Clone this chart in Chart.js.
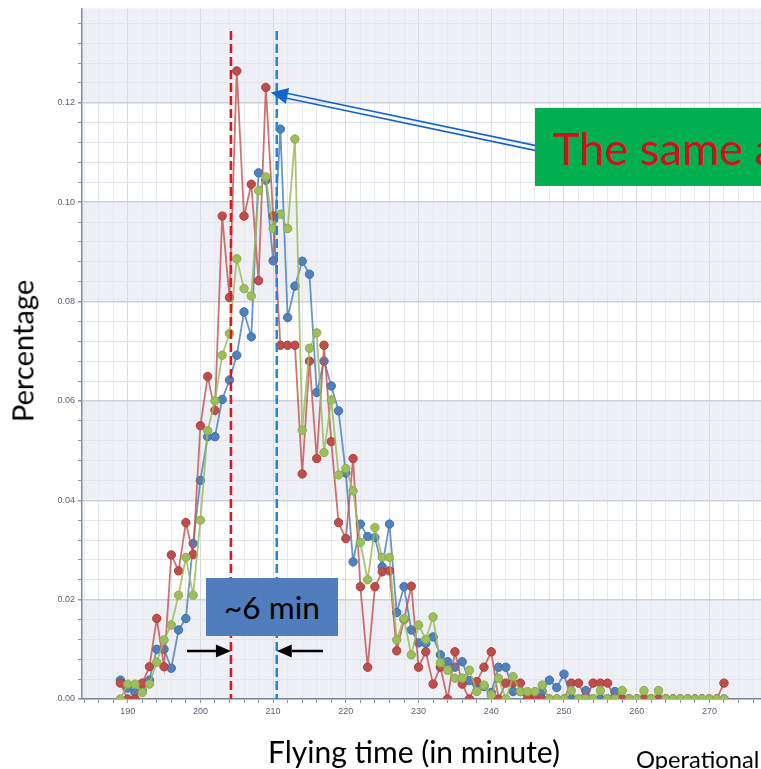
<!DOCTYPE html>
<html>
<head>
<meta charset="utf-8">
<title>Flying time distribution</title>
<script src="https://cdn.jsdelivr.net/npm/chart.js@4.4.1/dist/chart.umd.min.js"></script>
<style>
  html, body { margin: 0; padding: 0; background: #ffffff; }
  #stage { position: relative; width: 761px; height: 769px; overflow: hidden; }
  #chartBox { position: absolute; left: 0; top: 0; width: 800px; height: 769px; }
  .note { position: absolute; white-space: nowrap; line-height: 1; font-family: Lato, "Open Sans", sans-serif; color: #000; }
  #yTitle { left: 22px; top: 351px; font-size: 24px; transform: translate(-50%, -50%) rotate(-90deg); }
  #xTitle { left: 414px; top: 751px; font-size: 26px; transform: translate(-50%, -50%); }
  #opTitle { left: 636px; top: 760px; font-size: 22px; transform: translateY(-50%); }
  #sameBox { position: absolute; left: 535px; top: 108px; width: 260px; height: 78px; background: #00b050; }
  #sameText { left: 18px; top: 40px; font-size: 40px; color: #d0101a; transform: translateY(-50%); }
  #minBox { position: absolute; left: 206px; top: 578px; width: 132px; height: 58px; background: #4f7dbd; }
  #minText { left: 66px; top: 30px; font-size: 26px; transform: translate(-50%, -50%); }
</style>
</head>
<body>
<div id="stage">
  <div id="chartBox"><canvas id="flyChart" width="800" height="769"></canvas></div>
  <div class="note" id="yTitle">Percentage</div>
  <div class="note" id="xTitle">Flying time (in minute)</div>
  <div class="note" id="opTitle">Operational</div>
  <div id="sameBox"><div class="note" id="sameText">The same a</div></div>
  <div id="minBox"><div class="note" id="minText">~6 min</div></div>
</div>
<script>
// flying time in minutes (x values)
const minutes = [
  189, 190, 191, 192, 193, 194, 195, 196, 197, 198, 199,
  200, 201, 202, 203, 204, 205, 206, 207, 208, 209,
  210, 211, 212, 213, 214, 215, 216, 217, 218, 219,
  220, 221, 222, 223, 224, 225, 226, 227, 228, 229,
  230, 231, 232, 233, 234, 235, 236, 237, 238, 239,
  240, 241, 242, 243, 244, 245, 246, 247, 248, 249,
  250, 251, 252, 253, 254, 255, 256, 257, 258, 259,
  260, 261, 262, 263, 264, 265, 266, 267, 268, 269,
  270, 271, 272
];

// share of flights per minute, one list per series
const redShare = [
  0.0032, 0, 0, 0.0032, 0.0065, 0.0162, 0.0065, 0.029, 0.0258, 0.0355, 0.0291,
  0.055, 0.0649, 0.0581, 0.0972, 0.0808, 0.1264, 0.0972, 0.1036, 0.0842, 0.1231,
  0.0972, 0.0712, 0.0712, 0.0712, 0.0453, 0.068, 0.0484, 0.0712, 0.0518, 0.0355,
  0.0323, 0.0484, 0.0226, 0.0064, 0.0226, 0.0256, 0.0258, 0.0097, 0.016, 0.0227,
  0.0064, 0.0095, 0.003, 0.0064, 0, 0.0095, 0.003, 0, 0.0035, 0.0064,
  0.0095, 0, 0.0032, 0.0032, 0.0032, 0, 0, 0, 0, 0,
  0, 0.0032, 0.0032, 0, 0.0032, 0.0032, 0.0032, 0, 0, 0,
  0, 0, 0, 0, 0, 0, 0, 0, 0, 0,
  0, 0, 0.0032
];
const greenShare = [
  0, 0.003, 0.003, 0.0013, 0.003, 0.0074, 0.0119, 0.0149, 0.0209, 0.0285, 0.0209,
  0.036, 0.054, 0.06, 0.0692, 0.0736, 0.0886, 0.0826, 0.0811, 0.1023, 0.1051,
  0.0947, 0.0976, 0.0947, 0.1127, 0.0541, 0.0706, 0.0737, 0.0496, 0.0602, 0.0451,
  0.0464, 0.0419, 0.0315, 0.024, 0.0345, 0.0285, 0.0285, 0.0119, 0.0162, 0.0089,
  0.0149, 0.012, 0.0165, 0.0073, 0.0058, 0.0042, 0.0042, 0.0058, 0.0015, 0.0028,
  0.0008, 0.0042, 0, 0.0045, 0.0015, 0.0015, 0.0015, 0.0028, 0, 0,
  0, 0.0017, 0, 0, 0, 0.0017, 0, 0, 0.0017, 0,
  0, 0.0017, 0, 0.0017, 0, 0, 0, 0, 0, 0,
  0, 0, 0
];
const blueShare = [
  0.0038, 0.0022, 0.0013, 0.0017, 0.0038, 0.01, 0.01, 0.0062, 0.0139, 0.0162, 0.0313,
  0.044, 0.0528, 0.0528, 0.0603, 0.0642, 0.0692, 0.0779, 0.0729, 0.1059, 0.1044,
  0.0882, 0.1147, 0.0768, 0.0831, 0.0881, 0.0855, 0.0617, 0.068, 0.063, 0.058,
  0.0455, 0.0276, 0.0352, 0.0327, 0.0325, 0.0266, 0.0352, 0.0174, 0.0226, 0.0139,
  0.0113, 0.0112, 0.0125, 0.0089, 0.0075, 0.0064, 0.0075, 0.0037, 0.003, 0.0025,
  0.0013, 0.0064, 0.0064, 0.0015, 0.0015, 0.0008, 0.0008, 0.0015, 0.0038, 0.0023,
  0.005, 0, 0, 0.0017, 0, 0, 0, 0.0015, 0, 0,
  0, 0, 0, 0, 0, 0, 0, 0, 0, 0,
  0, 0, 0
];

// axis labels
const xTickLabels = [190, 200, 210, 220, 230, 240, 250, 260, 270];
const yTickLabels = ["0.00", "0.02", "0.04", "0.06", "0.08", "0.10", "0.12"];

// the two dashed markers on the slide (minutes)
const redMarker = 204.2;
const blueMarker = 210.5;

const isMajorY = v => yTickLabels.some(l => Math.abs(parseFloat(l) - v) < 1e-6);

// build one line dataset
function series(values, dot, edge, line) {
  return {
    data: minutes.map((m, i) => ({ x: m, y: values[i] })),
    borderColor: line,
    borderWidth: 1.8,
    pointRadius: 4.2,
    pointBackgroundColor: dot,
    pointBorderColor: edge,
    pointBorderWidth: 1,
    tension: 0
  };
}

// alternating grey / white stripes behind the plot
const bandPlugin = {
  id: "bands",
  beforeDraw(chart) {
    const { ctx, chartArea: a, scales: { y } } = chart;
    const edges = yTickLabels.map(parseFloat);
    ctx.save();
    ctx.fillStyle = "#eef0f5";
    edges.forEach((v, i) => {
      if (i % 2 !== 0) return;
      const top = i + 1 < edges.length ? y.getPixelForValue(edges[i + 1]) : a.top;
      const bottom = y.getPixelForValue(v);
      ctx.fillRect(a.left, top, a.right - a.left, bottom - top);
    });
    ctx.restore();
  }
};

function doubleArrow(ctx, x0, y0, x1, y1) {
  const len = Math.hypot(x1 - x0, y1 - y0);
  const ux = (x1 - x0) / len, uy = (y1 - y0) / len;
  const nx = -uy, ny = ux;
  const head = 17, half = 8;
  const bx = x1 - ux * head, by = y1 - uy * head;
  ctx.strokeStyle = "#1565c8";
  ctx.lineWidth = 1.6;
  [-2.4, 2.4].forEach(o => {
    ctx.beginPath();
    ctx.moveTo(x0 + nx * o, y0 + ny * o);
    ctx.lineTo(bx + nx * o, by + ny * o);
    ctx.stroke();
  });
  ctx.fillStyle = "#1565c8";
  ctx.beginPath();
  ctx.moveTo(x1, y1);
  ctx.lineTo(bx + nx * half, by + ny * half);
  ctx.lineTo(bx - nx * half, by - ny * half);
  ctx.closePath();
  ctx.fill();
}

function solidArrow(ctx, x0, x1, yy) {
  const dir = Math.sign(x1 - x0);
  const head = 15, half = 6.5;
  ctx.strokeStyle = "#000";
  ctx.lineWidth = 2.5;
  ctx.beginPath();
  ctx.moveTo(x0, yy);
  ctx.lineTo(x1 - dir * head, yy);
  ctx.stroke();
  ctx.fillStyle = "#000";
  ctx.beginPath();
  ctx.moveTo(x1, yy);
  ctx.lineTo(x1 - dir * head, yy - half);
  ctx.lineTo(x1 - dir * head, yy + half);
  ctx.closePath();
  ctx.fill();
}

// dashed markers and arrows drawn over the lines
const overlayPlugin = {
  id: "overlay",
  afterDatasetsDraw(chart) {
    const { ctx, scales: { x, y } } = chart;
    const redX = x.getPixelForValue(redMarker);
    const blueX = x.getPixelForValue(blueMarker);
    ctx.save();
    ctx.lineWidth = 2.5;
    ctx.setLineDash([9, 4]);
    [[redX, "#e0161c"], [blueX, "#1c86e0"]].forEach(([px, c]) => {
      ctx.strokeStyle = c;
      ctx.beginPath();
      ctx.moveTo(px, 31);
      ctx.lineTo(px, y.bottom);
      ctx.stroke();
    });
    ctx.setLineDash([]);
    // arrow pointing at the second red peak
    const tipX = x.getPixelForValue(209) + 5;
    const tipY = y.getPixelForValue(redShare[minutes.indexOf(209)]) + 5;
    doubleArrow(ctx, 545, 150, tipX, tipY);
    // gap between the two markers
    solidArrow(ctx, 187, redX, 651);
    solidArrow(ctx, 323, blueX, 651);
    ctx.restore();
  }
};

const tickFont = { family: "'Liberation Sans', sans-serif", size: 9 };

new Chart(document.querySelector("#flyChart"), {
  type: "line",
  data: {
    datasets: [
      series(greenShare, "rgb(158,190,92)", "rgb(140,172,78)", "rgba(155,187,89,0.85)"),
      series(redShare, "rgb(190,78,75)", "rgb(170,64,62)", "rgba(192,80,77,0.8)"),
      series(blueShare, "rgb(79,129,189)", "rgb(66,112,170)", "rgba(79,129,189,0.85)")
    ]
  },
  options: {
    responsive: false,
    animation: false,
    devicePixelRatio: 1,
    layout: { padding: { top: 8, left: 0, right: 0, bottom: 0 } },
    plugins: { legend: { display: false }, tooltip: { enabled: false } },
    scales: {
      x: {
        type: "linear",
        min: 183.72,
        max: 281.74,
        afterFit(scale) { scale.height = 70; },
        afterBuildTicks(scale) {
          const ticks = [];
          for (let v = 184; v <= 280; v += 2) ticks.push({ value: v });
          scale.ticks = ticks;
        },
        grid: {
          color: c => (c.tick && c.tick.value % 10 === 0 ? "#d8dce4" : "#e5e8ee"),
          lineWidth: 1,
          tickLength: 4,
          tickColor: "#8a94a4"
        },
        border: { color: "#7e899a", width: 1.5 },
        ticks: {
          autoSkip: false,
          maxRotation: 0,
          padding: 3,
          color: "#5b6270",
          font: tickFont,
          callback: v => (xTickLabels.includes(v) ? String(v) : "")
        }
      },
      y: {
        min: 0,
        max: 0.139,
        afterFit(scale) { scale.width = 82; },
        afterBuildTicks(scale) {
          const ticks = [];
          for (let i = 0; i <= 34; i++) ticks.push({ value: Math.round(i * 4) / 1000 });
          scale.ticks = ticks;
        },
        grid: {
          color: c => (c.tick && isMajorY(c.tick.value) ? "#ccd1dc" : "#e2e5eb"),
          lineWidth: c => (c.tick && isMajorY(c.tick.value) ? 1.5 : 1),
          tickLength: 4,
          tickColor: "#8a94a4"
        },
        border: { color: "#7e899a", width: 1.5 },
        ticks: {
          autoSkip: false,
          padding: 3,
          color: "#5b6270",
          font: tickFont,
          callback: v => {
            const l = yTickLabels.find(t => Math.abs(parseFloat(t) - v) < 1e-6);
            return l || "";
          }
        }
      }
    }
  },
  plugins: [bandPlugin, overlayPlugin]
});

// scale the slide texts to the widths they take in the picture
function fitText(id, width) {
  const el = document.getElementById(id);
  const size = parseFloat(getComputedStyle(el).fontSize);
  el.style.fontSize = (size * width / el.offsetWidth) + "px";
}
fitText("yTitle", 142);
fitText("xTitle", 292);
fitText("opTitle", 123);
fitText("sameText", 224);
fitText("minText", 96);
</script>
</body>
</html>
